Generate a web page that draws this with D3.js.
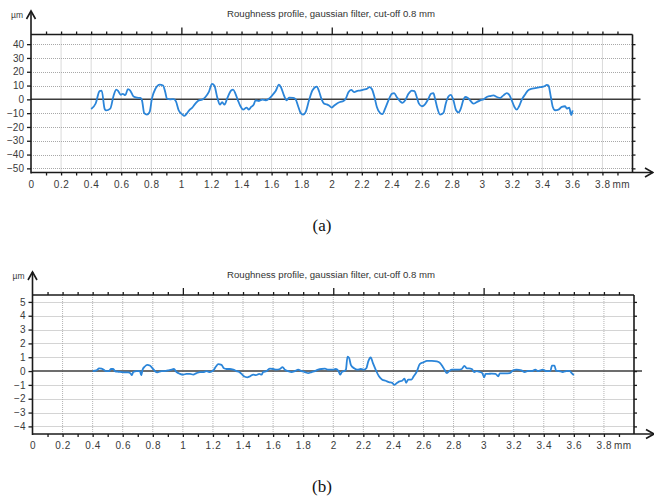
<!DOCTYPE html>
<html><head><meta charset="utf-8">
<script src="https://cdn.jsdelivr.net/npm/d3@7"></script>
<style>
body{margin:0;background:#fff;}
svg{display:block;font-family:"Liberation Sans",Arial,sans-serif;}
</style></head>
<body><svg id="c" width="654" height="500"></svg>
<script>
const titleText = "Roughness profile, gaussian filter, cut-off 0.8 mm";
const xUnit = "mm";
const yUnit = "µm";
const xLabelTicks = [0,0.2,0.4,0.6,0.8,1,1.2,1.4,1.6,1.8,2,2.2,2.4,2.6,2.8,3,3.2,3.4,3.6,3.8];
const yTicksA = [40,30,20,10,0,-10,-20,-30,-40,-50];
const yTicksB = [5,4,3,2,1,0,-1,-2,-3,-4];

// profile (a)
const xA = [0.40,0.43,0.456,0.47,0.49,0.50,0.527,0.55,0.567,0.58,0.597,0.61,0.627,0.644,0.66,0.682,0.704,0.727,0.738,0.753,0.771,0.789,0.804,0.827,0.856,0.878,0.893,0.904,0.927,0.949,0.964,0.982,1.004,1.02,1.038,1.056,1.071,1.093,1.116,1.138,1.16,1.182,1.204,1.22,1.238,1.256,1.271,1.287,1.304,1.331,1.344,1.36,1.376,1.393,1.411,1.433,1.449,1.464,1.482,1.493,1.516,1.538,1.56,1.582,1.604,1.627,1.649,1.664,1.682,1.70,1.716,1.744,1.76,1.778,1.793,1.809,1.827,1.849,1.871,1.90,1.916,1.931,1.949,1.967,1.982,2.0,2.011,2.033,2.055,2.078,2.093,2.111,2.129,2.151,2.166,2.188,2.211,2.233,2.25,2.266,2.284,2.30,2.322,2.337,2.355,2.377,2.40,2.415,2.432,2.455,2.47,2.488,2.51,2.532,2.55,2.565,2.58,2.60,2.62,2.643,2.66,2.676,2.687,2.703,2.72,2.743,2.758,2.776,2.792,2.809,2.827,2.843,2.858,2.876,2.887,2.905,2.92,2.942,2.965,2.987,3.009,3.031,3.053,3.075,3.098,3.12,3.142,3.164,3.182,3.197,3.215,3.23,3.246,3.264,3.286,3.304,3.326,3.353,3.386,3.415,3.43,3.441,3.457,3.47,3.486,3.508,3.53,3.552,3.563,3.579,3.593,3.602];
const yA = [-7,-3,6,6.4,-7,-8,-6.7,3,7,6,3.3,4,3,7.4,6.4,2,1.2,1,-0.7,-10,-11,-9,0.5,7.6,10.7,10,5.2,0.5,0,0.2,-1.4,-7.9,-10.7,-12,-10,-7.4,-6.2,-3.1,-0.7,-0.2,1.7,5.2,11.2,9.8,1.7,-3.8,-2.1,-3.8,0.5,6.4,7,4,-0.7,-5,-7.4,-6,-7.4,-5.5,-3.6,-0.7,-1.2,-0.2,-0.7,0.5,2.9,6,10.7,8.3,2.9,-0.7,1.2,1,0,-5.5,-9.8,-11,-9,-0.7,6.4,9.3,5.7,0.5,-3.1,-3.6,-4.5,-6,-5,-3.1,-1.9,-1.2,0.5,5.2,6.9,5.2,6,6.4,7.1,7.6,8.8,7.6,1.7,-5.5,-10,-10.7,-6.7,-0.7,4,4.5,1.7,-1.4,-2.6,-0.7,4,6.4,6,1.7,-3.1,-5,-3.6,0.5,4,4.5,0.5,-6.7,-11,-9.8,-3.1,2.1,3.3,-0.7,-7.9,-9.5,-6.7,-0.2,1.7,1,-0.7,-3.1,-1.9,-0.7,0,1.7,2.4,2.9,1.7,1,2.9,4.5,2.9,-0.7,-5.5,-7.4,-5,-0.2,3.6,6.4,7.6,8.1,8.8,9.5,10.5,10,1.7,-5.5,-7.9,-7.4,-5.5,-5,-6.7,-6,-11.4,-8];

// profile (b)
const xB = [0.40,0.426,0.443,0.459,0.474,0.488,0.51,0.521,0.537,0.548,0.57,0.592,0.614,0.636,0.652,0.661,0.67,0.692,0.714,0.723,0.732,0.747,0.763,0.78,0.798,0.814,0.829,0.858,0.88,0.902,0.925,0.94,0.958,0.98,1.002,1.024,1.047,1.069,1.091,1.113,1.135,1.157,1.18,1.20,1.22,1.235,1.257,1.273,1.29,1.313,1.335,1.357,1.375,1.39,1.406,1.428,1.446,1.468,1.486,1.508,1.523,1.534,1.556,1.579,1.60,1.623,1.645,1.663,1.678,1.70,1.723,1.745,1.767,1.789,1.811,1.834,1.856,1.878,1.90,1.922,1.945,1.967,1.996,2.018,2.035,2.046,2.057,2.073,2.084,2.095,2.106,2.117,2.139,2.161,2.183,2.205,2.22,2.233,2.249,2.264,2.282,2.304,2.326,2.348,2.37,2.392,2.407,2.425,2.44,2.458,2.474,2.485,2.498,2.52,2.535,2.557,2.575,2.601,2.623,2.656,2.689,2.711,2.727,2.74,2.756,2.771,2.789,2.81,2.833,2.855,2.872,2.888,2.903,2.921,2.938,2.954,2.976,2.991,3.004,3.013,3.031,3.053,3.079,3.097,3.108,3.141,3.174,3.196,3.218,3.251,3.273,3.295,3.322,3.344,3.361,3.394,3.416,3.445,3.454,3.471,3.482,3.504,3.526,3.548,3.571,3.586,3.60];
const yB = [0,0.05,0.2,0.17,0.1,0,0,0.15,0.15,0,-0.05,-0.07,-0.1,-0.1,-0.17,-0.3,-0.07,0,0,-0.3,0.1,0.33,0.45,0.4,0.2,0,-0.1,0,0,0.05,0.1,0.15,-0.07,-0.2,-0.26,-0.2,-0.2,-0.26,-0.15,-0.07,-0.07,0,-0.07,0.02,0.33,0.5,0.45,0.2,0.15,0.15,0.1,0,-0.07,-0.2,-0.38,-0.45,-0.38,-0.26,-0.3,-0.2,-0.26,-0.07,0,0.17,0.15,0.1,0.15,0.28,0.1,0,-0.07,0,0.1,0,-0.07,-0.15,-0.07,0,0.1,0.15,0.17,0.1,0.1,0.15,0,-0.26,-0.07,0,0.1,1.05,0.93,0.45,0.2,0.1,0.15,0.1,0.2,0.7,0.98,0.57,0.1,-0.38,-0.62,-0.7,-0.8,-0.85,-1.0,-0.85,-0.75,-0.7,-0.55,-0.85,-0.62,-0.62,-0.38,0,0.5,0.64,0.74,0.74,0.7,0.57,0.33,0.1,-0.15,0,0.1,0.1,0.1,0.15,0.38,0.2,0.2,0.15,-0.07,0,-0.07,-0.15,-0.45,-0.2,-0.2,-0.19,-0.2,-0.38,-0.17,-0.17,-0.15,0.05,0.1,0.05,-0.07,0.02,0,0.1,0,0.1,0,0.02,0.4,0.4,0.02,0,-0.07,0,0.02,-0.15,-0.3];

const svg = d3.select("#c");
const labelColor = "#3a3a3a";
const axisColor = "#1a1a1a";
const lineColor = "#2b85d9";

function drawChart(cfg){
  const g = svg.append("g");
  const x = d3.scaleLinear().domain([0,4.0]).range([cfg.left,cfg.right]);
  const y = d3.scaleLinear().domain(cfg.yDomain).range([cfg.bottom,cfg.top]);

  // grid
  g.append("g").selectAll("line").data(xLabelTicks.filter(d=>d>0)).join("line")
    .attr("x1",d=>x(d)).attr("x2",d=>x(d)).attr("y1",cfg.top).attr("y2",cfg.bottom)
    .attr("stroke","#b4b4b4").attr("stroke-width",1).attr("stroke-dasharray","1,1");
  g.append("g").selectAll("line").data(cfg.yTicks.filter(d=>d!==0)).join("line")
    .attr("x1",cfg.left).attr("x2",cfg.right).attr("y1",d=>Math.round(y(d))+0.5).attr("y2",d=>Math.round(y(d))+0.5)
    .attr("stroke","#a8a8a8").attr("stroke-width",1).attr("stroke-dasharray","1,1");

  // zero line
  g.append("line").attr("x1",cfg.left).attr("x2",cfg.right+8)
    .attr("y1",y(0)).attr("y2",y(0)).attr("stroke","#3c3c3c").attr("stroke-width",1.5);

  // profile
  const pts = cfg.xs.map((d,i)=>[d,cfg.ys[i]]);
  g.append("path").datum(pts)
    .attr("d",d3.line().curve(d3.curveMonotoneX).x(d=>x(d[0])).y(d=>y(d[1])))
    .attr("fill","none").attr("stroke",lineColor).attr("stroke-width",1.8)
    .attr("stroke-linejoin","round");

  // top ticks (minor every 0.1, major at integers)
  const tenth = d3.range(1,40).map(i=>i/10);
  const topAx = g.append("g").attr("transform",`translate(0,${cfg.top})`)
    .call(d3.axisTop(x).tickValues(tenth).tickSize(3).tickFormat(""));
  topAx.select(".domain").remove();
  topAx.selectAll(".tick line").attr("stroke",axisColor).attr("stroke-width",1.3)
    .attr("y2",d=>Math.abs(d-Math.round(d))<1e-6 ? -7 : -3);

  // bottom ticks
  const botTicks = g.append("g").attr("transform",`translate(0,${cfg.bottom})`)
    .call(d3.axisBottom(x).tickValues(tenth).tickSize(3).tickFormat(""));
  botTicks.select(".domain").remove();
  botTicks.selectAll(".tick line").attr("stroke",axisColor).attr("stroke-width",1.3);

  // bottom labels
  const botLab = g.append("g").attr("transform",`translate(0,${cfg.bottom})`)
    .call(d3.axisBottom(x).tickValues(xLabelTicks).tickSize(0).tickPadding(8)
      .tickFormat(d=>String(d)));
  botLab.select(".domain").remove();
  botLab.selectAll("text").attr("font-size",10).attr("fill",labelColor)
    .attr("font-family","'Liberation Sans',Arial,sans-serif").attr("letter-spacing","0.6px");
  const lastX = x(xLabelTicks[xLabelTicks.length-1]);
  g.append("text").attr("x",lastX+10).attr("y",cfg.bottom+8).attr("dy","0.71em")
    .attr("font-size",10).attr("fill",labelColor).attr("letter-spacing","0.6px").text(xUnit);

  // left axis labels + ticks
  const leftAx = g.append("g").attr("transform",`translate(${cfg.left},0)`)
    .call(d3.axisLeft(y).tickValues(cfg.yTicks).tickSize(4).tickPadding(3));
  leftAx.select(".domain").remove();
  leftAx.selectAll(".tick line").attr("stroke",axisColor).attr("stroke-width",1.3);
  leftAx.selectAll("text").attr("font-size",10).attr("fill",labelColor)
    .attr("font-family","'Liberation Sans',Arial,sans-serif");

  // right ticks
  const rightAx = g.append("g").attr("transform",`translate(${cfg.right},0)`)
    .call(d3.axisRight(y).tickValues(cfg.yTicks).tickSize(3).tickFormat(""));
  rightAx.select(".domain").remove();
  rightAx.selectAll(".tick line").attr("stroke",axisColor).attr("stroke-width",1.3);

  // frame lines
  const sw = 1.6;
  g.append("line").attr("x1",cfg.left).attr("x2",cfg.right).attr("y1",cfg.top).attr("y2",cfg.top)
    .attr("stroke",axisColor).attr("stroke-width",sw);
  g.append("line").attr("x1",cfg.right).attr("x2",cfg.right).attr("y1",cfg.top).attr("y2",cfg.bottom)
    .attr("stroke",axisColor).attr("stroke-width",sw);
  g.append("line").attr("x1",cfg.left).attr("x2",cfg.arrowX).attr("y1",cfg.bottom).attr("y2",cfg.bottom)
    .attr("stroke",axisColor).attr("stroke-width",sw);
  g.append("path").attr("d",`M${cfg.arrowX-8},${cfg.bottom-4.5}L${cfg.arrowX},${cfg.bottom}L${cfg.arrowX-8},${cfg.bottom+4.5}`)
    .attr("fill","none").attr("stroke",axisColor).attr("stroke-width",sw);
  g.append("line").attr("x1",cfg.left).attr("x2",cfg.left).attr("y1",cfg.arrowY).attr("y2",cfg.bottom+1)
    .attr("stroke",axisColor).attr("stroke-width",sw);
  g.append("path").attr("d",`M${cfg.left-4.5},${cfg.arrowY+8}L${cfg.left},${cfg.arrowY}L${cfg.left+4.5},${cfg.arrowY+8}`)
    .attr("fill","none").attr("stroke",axisColor).attr("stroke-width",sw);

  // unit label
  g.append("text").attr("x",cfg.left-8).attr("y",cfg.arrowY+7).attr("text-anchor","end")
    .attr("font-size",8.5).attr("fill",labelColor).text(yUnit);
  // title
  g.append("text").attr("x",331).attr("y",cfg.titleY).attr("text-anchor","middle")
    .attr("font-size",9.6).attr("fill","#333").text(titleText);
  // caption
  g.append("text").attr("x",322).attr("y",cfg.captionY).attr("text-anchor","middle")
    .attr("font-family","'Liberation Serif','Times New Roman',serif").attr("font-size",17)
    .attr("fill","#111").text(cfg.caption);
}

drawChart({left:31,right:632.5,top:34.5,bottom:172.5,yDomain:[-53,47],yTicks:yTicksA,
  xs:xA,ys:yA,arrowX:653,arrowY:11,titleY:17,captionY:231,caption:"(a)"});
drawChart({left:32.5,right:634,top:295,bottom:434,yDomain:[-4.55,5.5],yTicks:yTicksB,
  xs:xB,ys:yB,arrowX:654,arrowY:272,titleY:278,captionY:492,caption:"(b)"});
</script></body></html>
